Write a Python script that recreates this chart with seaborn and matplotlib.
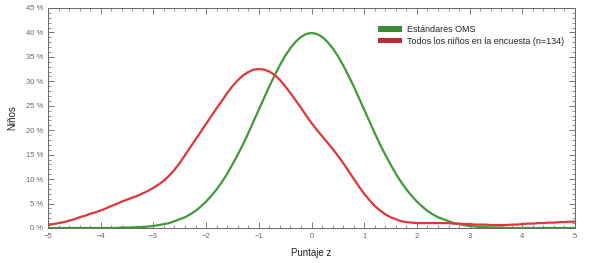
import numpy as np
import pandas as pd
import matplotlib
matplotlib.use("Agg")
import matplotlib.pyplot as plt
import seaborn as sns
from matplotlib.ticker import MultipleLocator, FuncFormatter
from matplotlib.patches import Patch

# z-score grid, -5.0 ... 5.0 in steps of 0.1
z = list(np.round(np.linspace(-5, 5, 101), 1))

oms = [0, 0, 0, 0, 0, 0, 0, 0, 0, 0,
       0, 0, 0, 0, 0.1, 0.1, 0.1, 0.2, 0.2, 0.3,
       0.4, 0.6, 0.8, 1.0, 1.4, 1.8, 2.2, 2.8, 3.5, 4.4,
       5.4, 6.6, 7.9, 9.4, 11.1, 13.0, 15.0, 17.1, 19.4, 21.8,
       24.2, 26.6, 29.0, 31.2, 33.3, 35.2, 36.8, 38.1, 39.1, 39.7,
       39.9, 39.7, 39.1, 38.1, 36.8, 35.2, 33.3, 31.2, 29.0, 26.6,
       24.2, 21.8, 19.4, 17.1, 15.0, 13.0, 11.1, 9.4, 7.9, 6.6,
       5.4, 4.4, 3.5, 2.8, 2.2, 1.8, 1.4, 1.0, 0.8, 0.6,
       0.4, 0.3, 0.2, 0.2, 0.1, 0.1, 0.1, 0, 0, 0,
       0, 0, 0, 0, 0, 0, 0, 0, 0, 0,
       0]
encuesta = [0.6, 0.8, 1.0, 1.2, 1.5, 1.8, 2.2, 2.5, 2.9, 3.2,
            3.6, 4.0, 4.5, 4.9, 5.4, 5.8, 6.2, 6.6, 7.1, 7.6,
            8.2, 8.9, 9.7, 10.7, 11.9, 13.3, 14.9, 16.5, 18.1, 19.7,
            21.3, 22.9, 24.5, 26.0, 27.6, 29.0, 30.2, 31.2, 31.9, 32.4,
            32.5, 32.4, 32.0, 31.3, 30.3, 29.0, 27.6, 26.1, 24.6, 23.0,
            21.5, 20.1, 18.8, 17.5, 16.2, 14.8, 13.3, 11.7, 10.1, 8.5,
            7.0, 5.7, 4.5, 3.6, 2.8, 2.2, 1.8, 1.4, 1.2, 1.1,
            1.0, 1.0, 1.0, 1.0, 1.0, 1.0, 1.0, 0.9, 0.9, 0.8,
            0.8, 0.7, 0.7, 0.7, 0.6, 0.6, 0.6, 0.6, 0.7, 0.7,
            0.8, 0.9, 0.9, 1.0, 1.0, 1.1, 1.1, 1.2, 1.2, 1.3,
            1.3]
assert len(z) == len(oms) == len(encuesta)

series_names = ["Estándares OMS", "Todos los niños en la encuesta (n=134)"]
colors = ["#3f9a37", "#e2353a"]
legend_colors = ["#3a8a35", "#c1283a"]

df = pd.DataFrame({
    "z": z * 2,
    "pct": oms + encuesta,
    "serie": [series_names[0]] * len(z) + [series_names[1]] * len(z),
})

sns.set_style("white")
plt.rcParams["font.family"] = ["Liberation Sans", "DejaVu Sans"]

fig = plt.figure(figsize=(5.89, 2.63), dpi=100)
ax = fig.add_axes([48 / 589, 1 - 228 / 263, (575 - 48) / 589, (228 - 8) / 263])

sns.lineplot(data=df, x="z", y="pct", hue="serie", palette=colors, linewidth=1.6,
             ax=ax, legend=False, sort=False)
for ln in ax.lines:
    ln.set_solid_joinstyle("round")
    ln.set_solid_capstyle("round")

ax.set_xlim(-5, 5)
ax.set_ylim(0, 45)
ax.xaxis.set_major_locator(MultipleLocator(1))
ax.xaxis.set_minor_locator(MultipleLocator(0.2))
ax.yaxis.set_major_locator(MultipleLocator(5))
ax.yaxis.set_minor_locator(MultipleLocator(1))
ax.yaxis.set_major_formatter(FuncFormatter(lambda v, p: f"{int(v)} %"))
ax.tick_params(which="both", direction="in", top=True, right=True, bottom=True, left=True,
               colors="#666666", labelsize=5.5)
ax.tick_params(which="major", length=4, width=0.6)
ax.tick_params(which="minor", length=2, width=0.5)
for s in ax.spines.values():
    s.set_color("#666666")
    s.set_linewidth(0.7)

ax.set_xlabel("Puntaje z", fontsize=7, color="#222222", labelpad=6)
ax.set_ylabel("Niños", fontsize=7, color="#222222", labelpad=6)

handles = [Patch(facecolor=c, edgecolor="none") for c in legend_colors]
ax.legend(handles, series_names, loc="upper right", bbox_to_anchor=(0.995, 0.96),
          frameon=False, fontsize=6.5, handlelength=2.6, handleheight=0.6,
          handletextpad=0.6, labelspacing=0.3)

fig.savefig("out.png", dpi=100)
